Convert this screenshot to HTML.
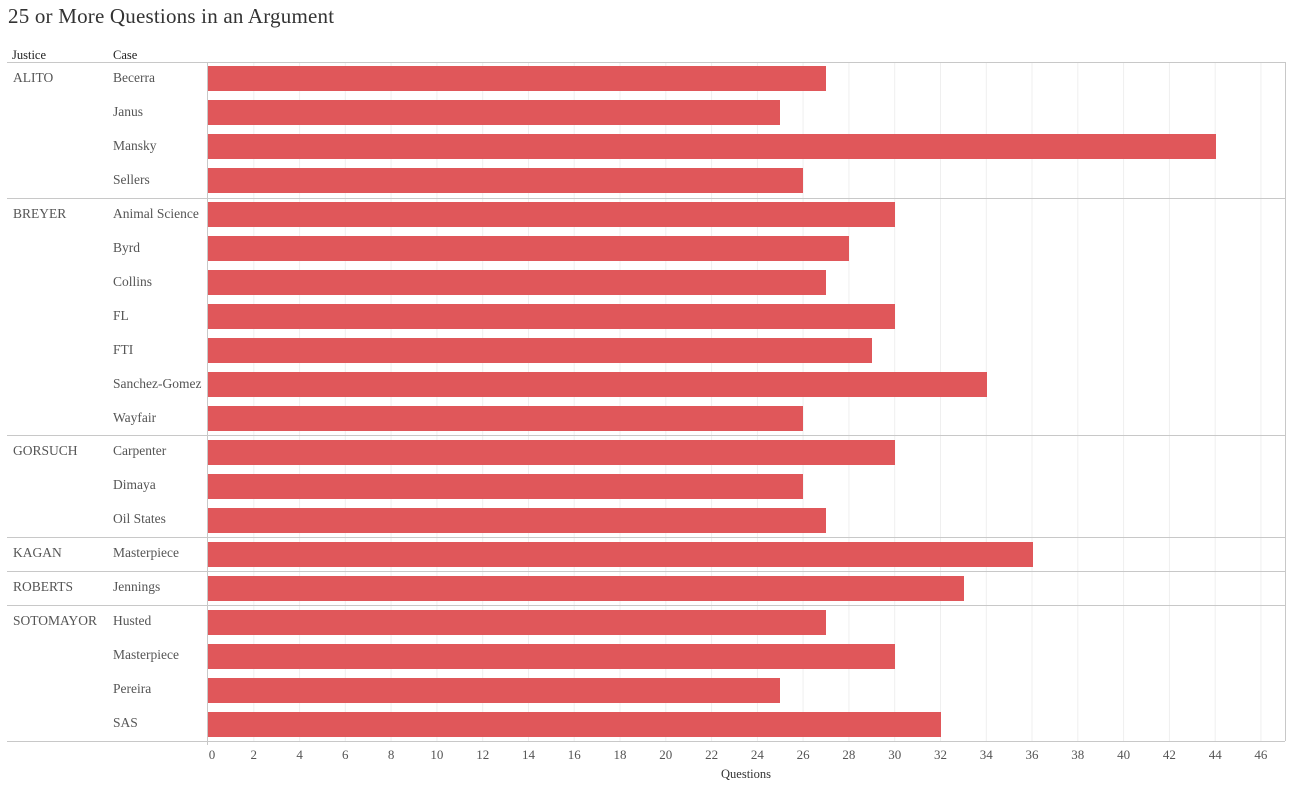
<!DOCTYPE html>
<html><head><meta charset="utf-8"><style>body{margin:0;background:#fff}svg{display:block}text{font-family:"Liberation Serif",serif}</style></head><body>
<svg width="1289" height="789" xmlns="http://www.w3.org/2000/svg">
<text x="8" y="23" font-size="21" fill="#333" letter-spacing="0.2">25 or More Questions in an Argument</text>
<text x="12" y="59" font-size="12.5" fill="#222">Justice</text>
<text x="113" y="59" font-size="12.5" fill="#222">Case</text>
<g stroke="#efefef" stroke-width="1">
<line x1="253.8" y1="62" x2="253.8" y2="741"/><line x1="299.6" y1="62" x2="299.6" y2="741"/><line x1="345.3" y1="62" x2="345.3" y2="741"/><line x1="391.1" y1="62" x2="391.1" y2="741"/><line x1="436.9" y1="62" x2="436.9" y2="741"/><line x1="482.7" y1="62" x2="482.7" y2="741"/><line x1="528.5" y1="62" x2="528.5" y2="741"/><line x1="574.2" y1="62" x2="574.2" y2="741"/><line x1="620" y1="62" x2="620" y2="741"/><line x1="665.8" y1="62" x2="665.8" y2="741"/><line x1="711.6" y1="62" x2="711.6" y2="741"/><line x1="757.4" y1="62" x2="757.4" y2="741"/><line x1="803.1" y1="62" x2="803.1" y2="741"/><line x1="848.9" y1="62" x2="848.9" y2="741"/><line x1="894.7" y1="62" x2="894.7" y2="741"/><line x1="940.5" y1="62" x2="940.5" y2="741"/><line x1="986.3" y1="62" x2="986.3" y2="741"/><line x1="1032" y1="62" x2="1032" y2="741"/><line x1="1077.8" y1="62" x2="1077.8" y2="741"/><line x1="1123.6" y1="62" x2="1123.6" y2="741"/><line x1="1169.4" y1="62" x2="1169.4" y2="741"/><line x1="1215.2" y1="62" x2="1215.2" y2="741"/><line x1="1260.9" y1="62" x2="1260.9" y2="741"/>
</g>
<g fill="#e0575a">
<rect x="208" y="66" width="618" height="25"/>
<rect x="208" y="100" width="572" height="25"/>
<rect x="208" y="134" width="1008" height="25"/>
<rect x="208" y="168" width="595" height="25"/>
<rect x="208" y="202" width="687" height="25"/>
<rect x="208" y="236" width="641" height="25"/>
<rect x="208" y="270" width="618" height="25"/>
<rect x="208" y="304" width="687" height="25"/>
<rect x="208" y="338" width="664" height="25"/>
<rect x="208" y="372" width="779" height="25"/>
<rect x="208" y="406" width="595" height="25"/>
<rect x="208" y="440" width="687" height="25"/>
<rect x="208" y="474" width="595" height="25"/>
<rect x="208" y="508" width="618" height="25"/>
<rect x="208" y="542" width="825" height="25"/>
<rect x="208" y="576" width="756" height="25"/>
<rect x="208" y="610" width="618" height="25"/>
<rect x="208" y="644" width="687" height="25"/>
<rect x="208" y="678" width="572" height="25"/>
<rect x="208" y="712" width="733" height="25"/>
</g>
<g stroke="#c8c8c8" stroke-width="1">
<line x1="7" y1="62.5" x2="1285" y2="62.5"/>
<line x1="7" y1="198.5" x2="1285" y2="198.5"/>
<line x1="7" y1="435.5" x2="1285" y2="435.5"/>
<line x1="7" y1="537.5" x2="1285" y2="537.5"/>
<line x1="7" y1="571.5" x2="1285" y2="571.5"/>
<line x1="7" y1="605.5" x2="1285" y2="605.5"/>
<line x1="7" y1="741.5" x2="1285" y2="741.5"/>
<line x1="207.5" y1="62" x2="207.5" y2="745"/>
<line x1="1285.5" y1="62" x2="1285.5" y2="741"/>
</g>
<g font-size="13.5" fill="#555">
<text x="13" y="82">ALITO</text><text x="13" y="218">BREYER</text><text x="13" y="455">GORSUCH</text><text x="13" y="557">KAGAN</text><text x="13" y="591">ROBERTS</text><text x="13" y="625">SOTOMAYOR</text>
<text x="113" y="82">Becerra</text><text x="113" y="116">Janus</text><text x="113" y="150">Mansky</text><text x="113" y="184">Sellers</text><text x="113" y="218">Animal Science</text><text x="113" y="252">Byrd</text><text x="113" y="286">Collins</text><text x="113" y="320">FL</text><text x="113" y="354">FTI</text><text x="113" y="388">Sanchez-Gomez</text><text x="113" y="422">Wayfair</text><text x="113" y="455">Carpenter</text><text x="113" y="489">Dimaya</text><text x="113" y="523">Oil States</text><text x="113" y="557">Masterpiece</text><text x="113" y="591">Jennings</text><text x="113" y="625">Husted</text><text x="113" y="659">Masterpiece</text><text x="113" y="693">Pereira</text><text x="113" y="727">SAS</text>
</g>
<g font-size="13" fill="#555" text-anchor="middle">
<text x="212" y="759">0</text><text x="253.8" y="759">2</text><text x="299.6" y="759">4</text><text x="345.3" y="759">6</text><text x="391.1" y="759">8</text><text x="436.9" y="759">10</text><text x="482.7" y="759">12</text><text x="528.5" y="759">14</text><text x="574.2" y="759">16</text><text x="620" y="759">18</text><text x="665.8" y="759">20</text><text x="711.6" y="759">22</text><text x="757.4" y="759">24</text><text x="803.1" y="759">26</text><text x="848.9" y="759">28</text><text x="894.7" y="759">30</text><text x="940.5" y="759">32</text><text x="986.3" y="759">34</text><text x="1032" y="759">36</text><text x="1077.8" y="759">38</text><text x="1123.6" y="759">40</text><text x="1169.4" y="759">42</text><text x="1215.2" y="759">44</text><text x="1260.9" y="759">46</text>
<text x="746" y="778" fill="#333" font-size="12.5">Questions</text>
</g>
</svg>
</body></html>
